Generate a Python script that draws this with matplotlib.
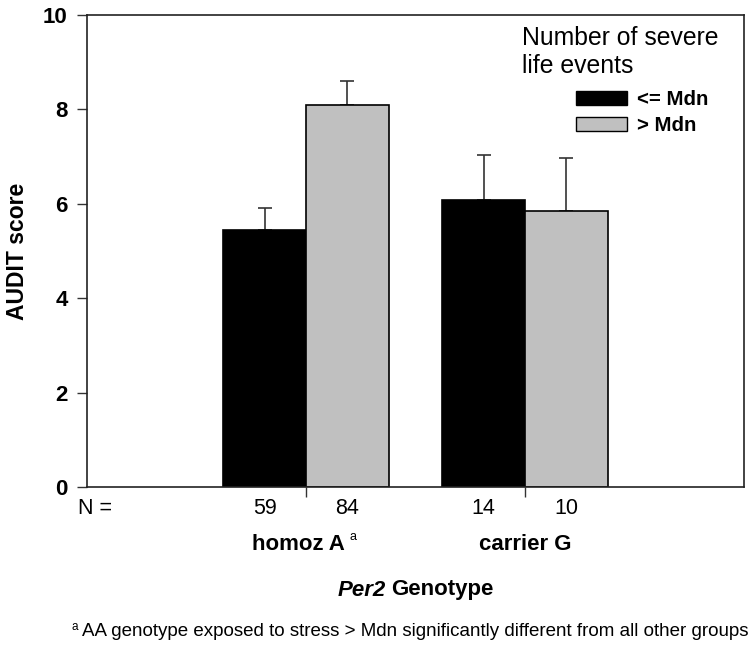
import matplotlib
matplotlib.use('Agg')
from matplotlib import pyplot as plt
from matplotlib.patches import Patch

plt.rcParams['font.family'] = ['Liberation Sans', 'DejaVu Sans']

groups = ['homoz A', 'carrier G']
low_mean = [5.45, 6.08]
low_err = [0.47, 0.96]
high_mean = [8.09, 5.84]
high_err = [0.52, 1.13]
low_n = ['59', '14']
high_n = ['84', '10']

W, H = 754, 649
fig = plt.figure(figsize=(W/100, H/100), dpi=100)
ax = fig.add_axes([87/W, 1-487/H, 657/W, 472/H])

pos = [1, 2]
bw = 0.377
lpos = [p - bw/2 for p in pos]
hpos = [p + bw/2 for p in pos]

ax.bar(lpos, low_mean, bw, color='black', edgecolor='black', linewidth=1.2, zorder=2)
ax.bar(hpos, high_mean, bw, color='#c0c0c0', edgecolor='black', linewidth=1.2, zorder=2)
ax.errorbar(lpos, low_mean, yerr=[[0, 0], low_err], fmt='none', ecolor='#333333',
            elinewidth=1.2, capsize=4.7, capthick=1.2, zorder=1)
ax.errorbar(hpos, high_mean, yerr=[[0, 0], high_err], fmt='none', ecolor='#333333',
            elinewidth=1.2, capsize=4.7, capthick=1.2, zorder=1)

ax.set_xlim(0, 3)
ax.set_ylim(0, 10)
ax.set_xticks(pos)
ax.set_xticklabels([])
ax.set_yticks([0, 2, 4, 6, 8, 10])
ax.set_yticklabels(['0', '2', '4', '6', '8', '10'], fontsize=16, fontweight='bold')
ax.tick_params(direction='out', length=7, width=1, color='#333333', pad=7)
for s in ax.spines.values():
    s.set_linewidth(1.2)
    s.set_color('#222222')
ax.set_ylabel('AUDIT score', fontsize=16.5, fontweight='bold', labelpad=10)

tr = ax.get_xaxis_transform()
yN = -(509-487)/472
for i in range(2):
    ax.text(lpos[i], yN, low_n[i], ha='center', va='center', fontsize=15.5, transform=tr)
    ax.text(hpos[i], yN, high_n[i], ha='center', va='center', fontsize=15.5, transform=tr)
fig.text(95/W, 1-509/H, 'N =', ha='center', va='center', fontsize=15.5)

yG = 1-544/H
fig.text(298/W, yG, groups[0], ha='center', va='center', fontsize=16, fontweight='bold')
fig.text(349/W, yG+7/H, 'a', ha='left', va='center', fontsize=9)
ax.text(pos[1], -(544-487)/472, groups[1], ha='center', va='center', fontsize=16,
        fontweight='bold', transform=tr)

fig.text(386/W, 1-590/H, 'Per2', ha='right', va='center', fontsize=16,
         fontweight='bold', style='italic')
fig.text(391/W, 1-590/H, 'Genotype', ha='left', va='center', fontsize=16, fontweight='bold')
fig.text(72/W, 1-627/H, 'a', ha='left', va='center', fontsize=8.5)
fig.text(82/W, 1-632/H, 'AA genotype exposed to stress > Mdn significantly different from all other groups',
         ha='left', va='center', fontsize=13.5)

fig.text(522/W, 1-52/H, 'Number of severe\nlife events', ha='left', va='center', fontsize=17.8,
         linespacing=1.2)
handles = [Patch(facecolor='black', edgecolor='black', label='<= Mdn'),
           Patch(facecolor='#c0c0c0', edgecolor='black', label='> Mdn')]
fig.legend(handles=handles, loc='upper left', bbox_to_anchor=(576/W, 1-90/H),
           frameon=False, prop={'size': 14.7, 'weight': 'bold'}, handlelength=2.5,
           handleheight=0.64, handletextpad=0.5, labelspacing=0.35, borderpad=0,
           borderaxespad=0)

fig.savefig('out.png', dpi=100)
